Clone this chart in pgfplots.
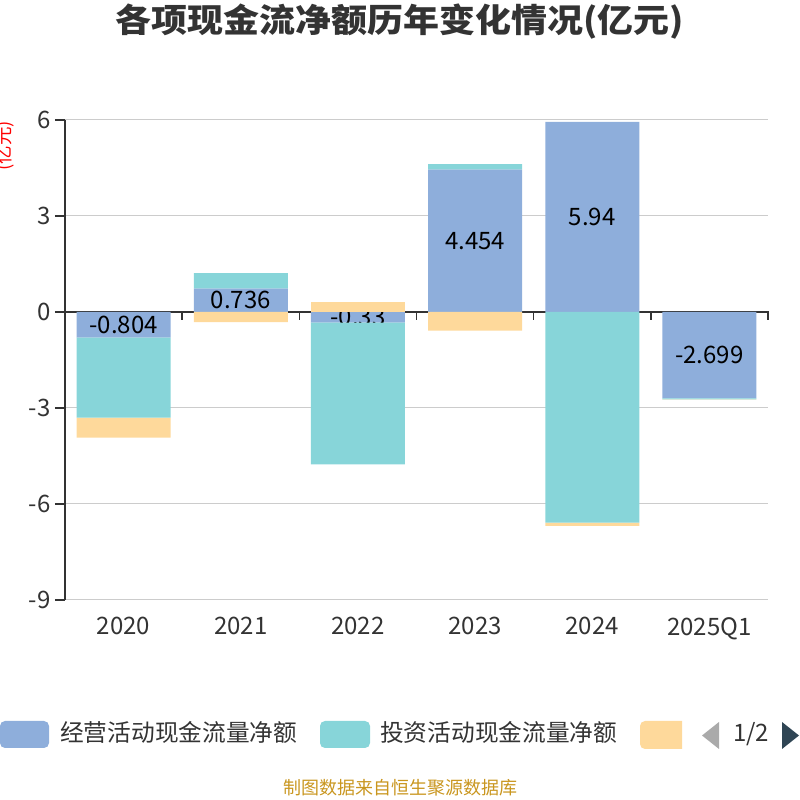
\documentclass[border=0pt]{standalone}
\usepackage{fontspec}
\setmainfont{Noto Sans CJK SC}
\usepackage{pgfplots}
\pgfplotsset{compat=1.18}
\usepackage{pgfplotstable}
\definecolor{cop}{HTML}{8EAEDB}
\definecolor{cinv}{HTML}{87D5D9}
\definecolor{cfin}{HTML}{FED99B}
\definecolor{ctxt}{HTML}{333333}
\definecolor{cgrid}{HTML}{CCCCCC}
\definecolor{csrc}{HTML}{C9961F}
\definecolor{carrow}{HTML}{2F4554}
\definecolor{cgrayarrow}{HTML}{AAAAAA}

\pgfplotstableread{
x op inv fin
0 -0.804 -2.50 -0.62
1 0.736 0.48 -0.32
2 -0.33 -4.43 0.30
3 4.454 0.17 -0.58
4 5.94 -6.58 -0.10
5 -2.699 -0.03 -0.01
}\cf

\pgfplotsset{
  base/.style={
    at={(65pt,200pt)}, anchor=south west, scale only axis,
    width=703pt, height=480pt,
    xmin=-0.5, xmax=5.5, ymin=-9, ymax=6,
  },
  hidden/.style={base, hide axis, clip=false},
}

\begin{document}
\begin{tikzpicture}[x=1pt,y=1pt]
\useasboundingbox (0,0) rectangle (800,800);

% grid + axes
\begin{axis}[base,
  axis y line*=left, axis x line*=bottom,
  x axis line style={draw=none},
  y axis line style={draw=ctxt, line width=1.5pt, -},
  xtick={0,...,5},
  xticklabels={2020,2021,2022,2023,2024,2025Q1},
  xtick style={draw=none},
  ytick={-9,-6,-3,0,3,6},
  ytick style={draw=ctxt, line width=1.5pt},
  tick align=outside, major tick length=10pt,
  ymajorgrids, major grid style={cgrid, line width=1pt},
  ticklabel style={font=\fontsize{24}{24}\selectfont, text=ctxt},
  /pgf/number format/assume math mode=true,
  xticklabel style={yshift=-4pt},
  yticklabel style={xshift=-1pt},
]
\addplot[draw=none] coordinates {(0,0)};
\end{axis}

% zero line with ticks at category boundaries
\draw[ctxt, line width=1.5pt] (65,488) -- (768,488);
\foreach \k in {1,...,6} {
  \draw[ctxt, line width=1.5pt] ({65+117.1667*\k},488.75) -- ({65+117.1667*\k},480);
}

% operating (both signs)
\begin{axis}[hidden, ybar, bar width=94pt]
\addplot[fill=cop, draw=none] table[x=x, y=op] \cf;
\end{axis}

% labels
\begin{axis}[hidden]
\addplot[only marks, mark=*, mark size=0pt, mark options={draw=none, fill=none, opacity=0},
  nodes near coords, point meta=explicit symbolic,
  every node near coord/.append style={anchor=center, opacity=1, text opacity=1, font=\fontsize{24}{24}\selectfont, text=black}]
  table[x=x, y expr={\thisrow{op}/2}, meta=op] \cf;
\end{axis}

% negative investing and financing
\begin{axis}[hidden, ybar stacked, bar width=94pt]
\addplot[fill=none, draw=none] table[x=x, y expr={min(\thisrow{op},0)}] \cf;
\addplot[fill=cinv, draw=none] table[x=x, y expr={min(\thisrow{inv},0)}] \cf;
\addplot[fill=cfin, draw=none] table[x=x, y expr={min(\thisrow{fin},0)}] \cf;
\end{axis}

% positive investing and financing
\begin{axis}[hidden, ybar stacked, bar width=94pt]
\addplot[fill=none, draw=none] table[x=x, y expr={max(\thisrow{op},0)}] \cf;
\addplot[fill=cinv, draw=none] table[x=x, y expr={max(\thisrow{inv},0)}] \cf;
\addplot[fill=cfin, draw=none] table[x=x, y expr={max(\thisrow{fin},0)}] \cf;
\end{axis}

% title
\node[text=ctxt, font=\fontsize{33}{33}\selectfont\bfseries] at (400,778) {\scalebox{1.09}[1]{各项现金流净额历年变化情况(亿元)}};
% y label
\node[text=red, rotate=90, font=\fontsize{18.5}{18.5}\selectfont] at (4.5,654) {(亿元)};

% legend
\fill[cop, rounded corners=5pt] (0,52) rectangle (49,79);
\node[anchor=base west, inner sep=0, text=ctxt, font=\fontsize{23.7}{24}\selectfont] at (60,58.5) {经营活动现金流量净额};
\fill[cinv, rounded corners=5pt] (320,52) rectangle (370,79);
\node[anchor=base west, inner sep=0, text=ctxt, font=\fontsize{23.7}{24}\selectfont] at (380,58.5) {投资活动现金流量净额};
\begin{scope}
\clip (600,40) rectangle (682,90);
\fill[cfin, rounded corners=5pt] (640,51) rectangle (700,79);
\end{scope}
\fill[cgrayarrow] (719,78) -- (702,64.5) -- (719,51) -- cycle;
\node[anchor=base west, inner sep=0, text=ctxt, font=\fontsize{24}{24}\selectfont] at (733,58.5) {1/2};
\fill[carrow] (782,78) -- (799,64.5) -- (782,51) -- cycle;

% source
\node[text=csrc, font=\fontsize{18}{18}\selectfont] at (400,12) {制图数据来自恒生聚源数据库};
\end{tikzpicture}
\end{document}
